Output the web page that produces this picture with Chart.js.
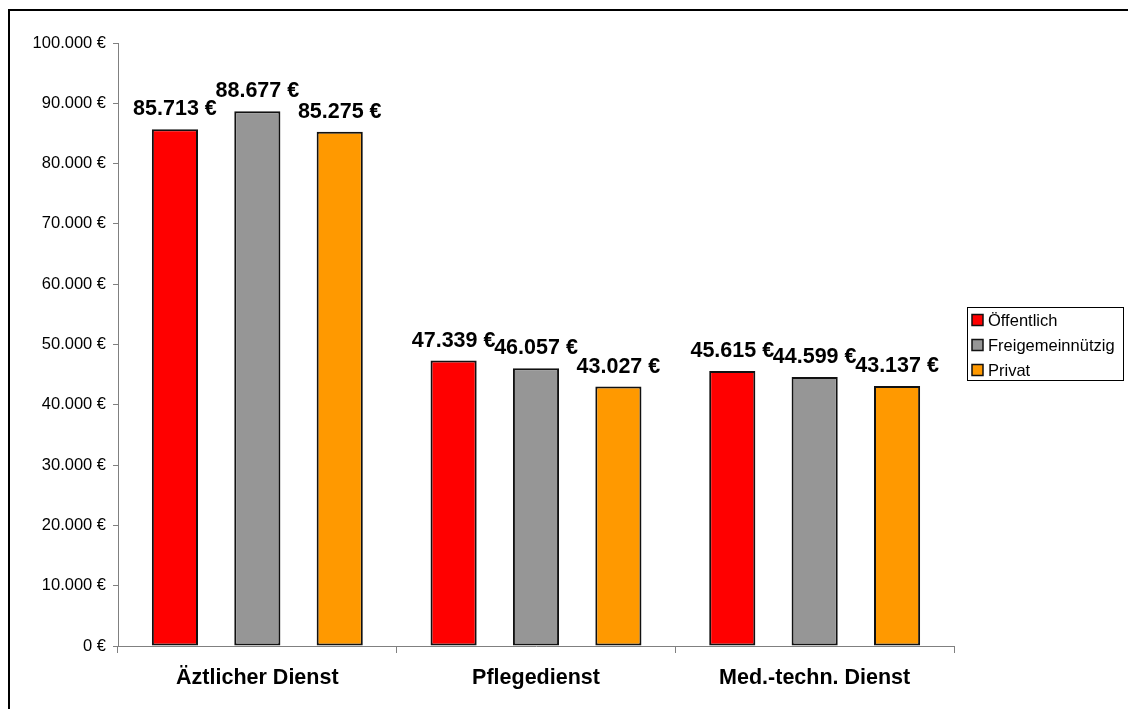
<!DOCTYPE html>
<html>
<head>
<meta charset="utf-8">
<script src="https://cdn.jsdelivr.net/npm/chart.js@4/dist/chart.umd.min.js"></script>
<style>
  html, body { margin: 0; padding: 0; background: #ffffff; }
  canvas { display: block; }
</style>
</head>
<body>
<canvas id="chart" width="1128" height="709"></canvas>
<script>
// Durchschnittliche Personalkosten je Vollkraft nach Dienstart und Trägerschaft
const categories = ['Äztlicher Dienst', 'Pflegedienst', 'Med.-techn. Dienst'];
const seriesNames = ['Öffentlich', 'Freigemeinnützig', 'Privat'];
const oeffentlich = [85713, 47339, 45615];
const freigemeinnuetzig = [88677, 46057, 44599];
const privat = [85275, 43027, 43137];
const yMin = 0;
const yMax = 100000;
const yStep = 10000;

const seriesColors = ['#FF0000', '#969696', '#FF9900'];
const FONT = '"Liberation Sans", Arial, Helvetica, sans-serif';

// 85713 -> "85.713 €"
function euro(v) {
  return String(Math.round(v)).replace(/\B(?=(\d{3})+(?!\d))/g, '.') + ' €';
}

// Outer frame (top and left edges of the chart border)
const framePlugin = {
  id: 'frame',
  beforeDraw(chart) {
    const ctx = chart.ctx;
    ctx.save();
    ctx.fillStyle = '#ffffff';
    ctx.fillRect(0, 0, chart.width, chart.height);
    ctx.fillStyle = '#000000';
    ctx.fillRect(8, 9, chart.width, 2);
    ctx.fillRect(8, 9, 2, chart.height);
    ctx.restore();
  }
};

// Value labels above each bar
const valueLabels = {
  id: 'valueLabels',
  afterDatasetsDraw(chart) {
    const ctx = chart.ctx;
    ctx.save();
    ctx.font = 'bold 21.5px ' + FONT;
    ctx.fillStyle = '#000000';
    ctx.textAlign = 'center';
    ctx.textBaseline = 'alphabetic';
    chart.data.datasets.forEach((ds, i) => {
      chart.getDatasetMeta(i).data.forEach((bar, j) => {
        ctx.fillText(euro(ds.data[j]), bar.x, bar.y - 14);
      });
    });
    ctx.restore();
  }
};

// Boxed legend on the right side
const boxLegend = {
  id: 'boxLegend',
  afterDraw(chart) {
    const ctx = chart.ctx;
    const x = 967, y = 307, w = 157, h = 74;
    ctx.save();
    ctx.strokeStyle = '#000000';
    ctx.lineWidth = 1;
    ctx.strokeRect(x + 0.5, y + 0.5, w - 1, h - 1);
    ctx.font = '16.5px ' + FONT;
    ctx.textBaseline = 'middle';
    ctx.textAlign = 'left';
    chart.data.datasets.forEach((ds, i) => {
      const cy = y + 13 + i * 25;
      ctx.fillStyle = ds.backgroundColor;
      ctx.fillRect(x + 5, cy - 5.5, 11, 11);
      ctx.strokeStyle = '#111111';
      ctx.lineWidth = 1.5;
      ctx.strokeRect(x + 5, cy - 5.5, 11, 11);
      ctx.fillStyle = '#000000';
      ctx.fillText(ds.label, x + 21, cy + 1);
    });
    ctx.restore();
  }
};

const seriesData = [oeffentlich, freigemeinnuetzig, privat];

new Chart(document.getElementById('chart'), {
  type: 'bar',
  data: {
    labels: categories,
    datasets: seriesNames.map((name, i) => ({
      label: name,
      data: seriesData[i],
      backgroundColor: seriesColors[i],
      borderColor: '#111111',
      borderWidth: 2,
      borderSkipped: false,
      categoryPercentage: 0.887,
      barPercentage: 0.56
    }))
  },
  options: {
    responsive: false,
    devicePixelRatio: 1,
    animation: false,
    layout: { padding: { left: 0, top: 43, right: 174, bottom: 0 } },
    plugins: {
      legend: { display: false },
      tooltip: { enabled: false }
    },
    scales: {
      x: {
        grid: {
          display: true,
          offset: true,
          drawOnChartArea: false,
          drawTicks: true,
          tickLength: 7,
          color: '#808080',
          lineWidth: 1
        },
        border: { display: true, color: '#808080', width: 1 },
        ticks: {
          color: '#000000',
          font: { family: FONT, size: 21.5, weight: 'bold' },
          padding: 12,
          maxRotation: 0
        },
        afterFit(scale) { scale.height = 63; }
      },
      y: {
        min: yMin,
        max: yMax,
        grid: {
          display: true,
          drawOnChartArea: false,
          drawTicks: true,
          tickLength: 5,
          color: '#808080',
          lineWidth: 1
        },
        border: { display: true, color: '#808080', width: 1 },
        ticks: {
          stepSize: yStep,
          color: '#000000',
          font: { family: FONT, size: 16.5 },
          padding: 7,
          callback: (v) => euro(v)
        },
        afterFit(scale) { scale.width = 118; }
      }
    }
  },
  plugins: [framePlugin, valueLabels, boxLegend]
});
</script>
</body>
</html>
